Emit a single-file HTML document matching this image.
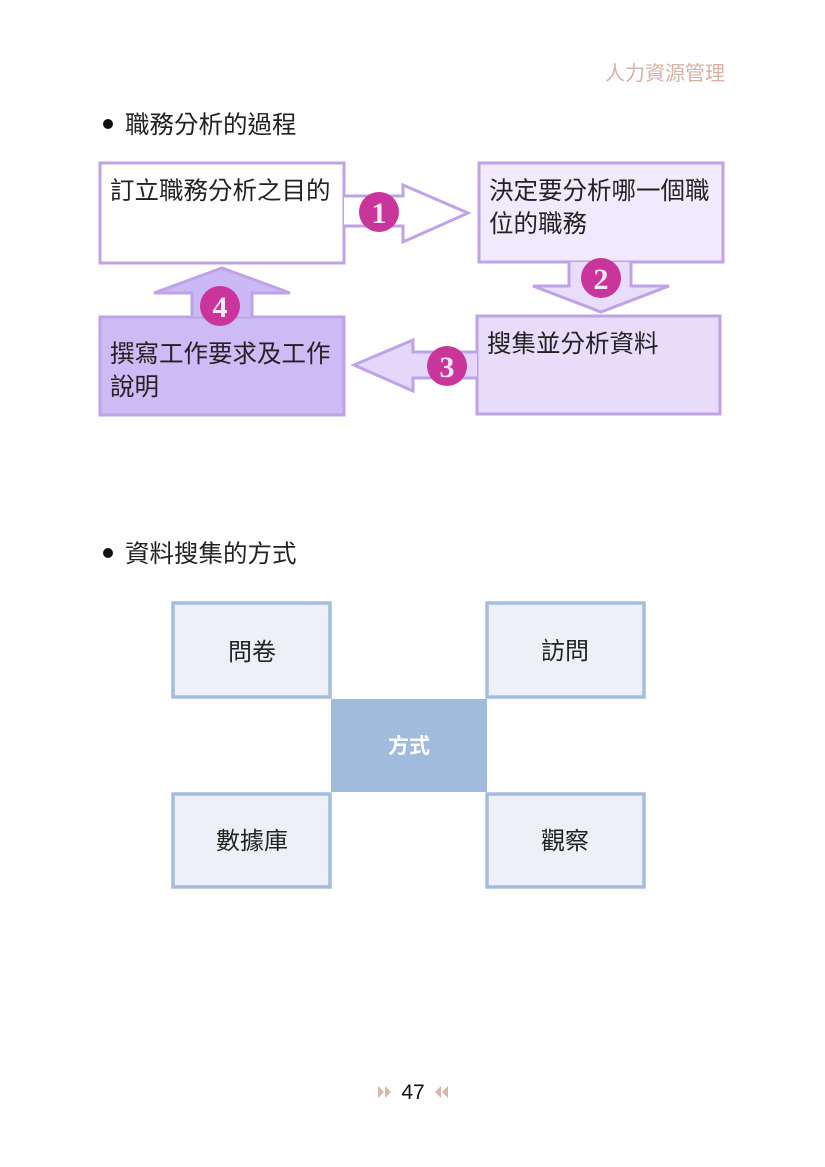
<!DOCTYPE html>
<html><head><meta charset="utf-8"><style>
html,body{margin:0;padding:0;background:#fff;}
svg{display:block;}
text{font-family:"Liberation Sans","Noto Sans CJK TC",sans-serif;}
</style></head><body>
<svg width="825" height="1167" viewBox="0 0 825 1167" xmlns="http://www.w3.org/2000/svg">
<text x="725" y="80" text-anchor="end" font-size="20" fill="#d9b0a4">人力資源管理</text>
<circle cx="108" cy="124" r="5" fill="#111"/>
<text x="125" y="133" font-size="24.5" fill="#222">職務分析的過程</text>

<!-- boxes -->
<rect x="100" y="163" width="244" height="100" fill="#fff" stroke="#c0a2e6" stroke-width="3"/>
<rect x="479" y="163" width="244" height="99" fill="#f1e9fc" stroke="#c0a2e6" stroke-width="3"/>
<rect x="477" y="316" width="243" height="98" fill="#e7ddfb" stroke="#c0a2e6" stroke-width="3"/>
<rect x="100" y="317" width="244" height="98" fill="#cdbbf6" stroke="#c0a2e6" stroke-width="3"/>

<!-- arrow1 -->
<path d="M344,196 L403,196 L403,185 L468,213 L403,242 L403,226 L344,226" fill="#fff" stroke="#c0a2e6" stroke-width="3"/>
<!-- arrow2 -->
<path d="M569,262 L569,286 L533,286 L601,312 L669,286 L631,286 L631,262" fill="#e8ddfb" stroke="#c0a2e6" stroke-width="3"/>
<!-- arrow3 -->
<path d="M477,352 L413,352 L413,340 L354,365 L413,391 L413,378 L477,378" fill="#e3d8fa" stroke="#c0a2e6" stroke-width="3"/>
<!-- arrow4 -->
<path d="M192,317 L192,293 L154,293 L222,268 L290,293 L252,293 L252,317" fill="#cbb9f6" stroke="#c0a2e6" stroke-width="3"/>

<g font-weight="bold" font-size="30" fill="#f2e8f6" text-anchor="middle">
<circle cx="379" cy="212" r="20" fill="#c9359b"/><text x="379" y="223" style="font-family:'Liberation Serif',serif">1</text>
<circle cx="601" cy="278" r="20" fill="#c9359b"/><text x="601" y="289" style="font-family:'Liberation Serif',serif">2</text>
<circle cx="447" cy="366" r="20" fill="#c9359b"/><text x="447" y="377" style="font-family:'Liberation Serif',serif">3</text>
<circle cx="220" cy="306" r="20" fill="#c9359b"/><text x="220" y="317" style="font-family:'Liberation Serif',serif">4</text>
</g>

<g font-size="24.5" fill="#222">
<text x="110" y="199">訂立職務分析之目的</text>
<text x="489" y="199">決定要分析哪一個職</text>
<text x="489" y="232">位的職務</text>
<text x="487" y="352">搜集並分析資料</text>
<text x="110" y="362">撰寫工作要求及工作</text>
<text x="110" y="395">說明</text>
</g>

<circle cx="108" cy="553" r="5" fill="#111"/>
<text x="125" y="562" font-size="24.5" fill="#222">資料搜集的方式</text>

<g fill="#edf0f7" stroke="#a4bddd" stroke-width="3.5">
<rect x="173" y="603" width="157" height="94"/>
<rect x="487" y="603" width="157" height="94"/>
<rect x="173" y="794" width="157" height="93"/>
<rect x="487" y="794" width="157" height="93"/>
</g>
<rect x="331" y="699" width="156" height="93" fill="#a0bbdc"/>
<g font-size="24" fill="#222" text-anchor="middle">
<text x="252" y="660">問卷</text>
<text x="565" y="659">訪問</text>
<text x="252" y="849">數據庫</text>
<text x="565" y="849">觀察</text>
</g>
<text x="409" y="753" font-size="21" font-weight="bold" fill="#fff" text-anchor="middle">方式</text>

<g fill="#dcb4a8">
<path d="M378,1086 L384,1092 L378,1098Z"/><path d="M385,1086 L391,1092 L385,1098Z"/>
<path d="M441,1086 L435,1092 L441,1098Z"/><path d="M448,1086 L442,1092 L448,1098Z"/>
</g>
<text x="413" y="1099" font-size="21" fill="#111" text-anchor="middle">47</text>
</svg>
</body></html>
